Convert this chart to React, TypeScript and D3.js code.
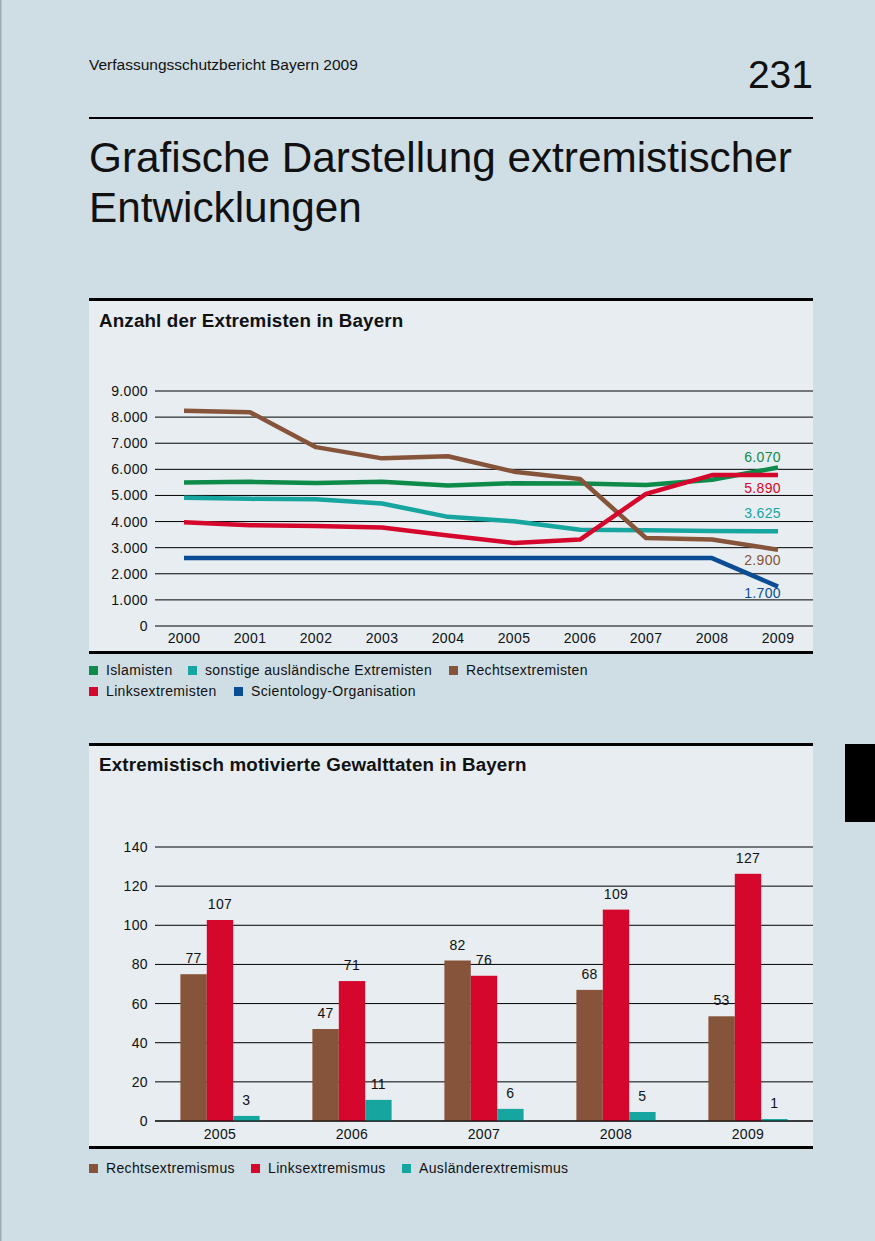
import React from 'react';
import * as d3 from 'd3';

// Anzahl der Extremisten in Bayern
const years = ['2000', '2001', '2002', '2003', '2004', '2005', '2006', '2007', '2008', '2009'];
const islamisten = [5500, 5520, 5480, 5520, 5380, 5470, 5460, 5400, 5600, 6070];
const sonstige = [4910, 4870, 4850, 4690, 4180, 4010, 3690, 3670, 3640, 3625];
const rechts = [8240, 8190, 6850, 6420, 6500, 5910, 5630, 3370, 3310, 2920];
const links = [3970, 3860, 3830, 3770, 3470, 3180, 3310, 5060, 5780, 5780];
const scientology = [2600, 2600, 2600, 2600, 2600, 2600, 2600, 2600, 2600, 1510];
const endLabels = ['6.070', '5.890', '3.625', '2.900', '1.700'];
const lineTicks = [0, 1000, 2000, 3000, 4000, 5000, 6000, 7000, 8000, 9000];

// Extremistisch motivierte Gewalttaten in Bayern
const barYears = ['2005', '2006', '2007', '2008', '2009'];
const rechtsBars = [75, 47, 82, 67, 53.5];
const linksBars = [102.7, 71.5, 74.2, 108, 126.3];
const auslBars = [2.6, 10.8, 6.2, 4.6, 1];
const rechtsLabels = ['77', '47', '82', '68', '53'];
const linksLabels = ['107', '71', '76', '109', '127'];
const auslLabels = ['3', '11', '6', '5', '1'];
const barTicks = [0, 20, 40, 60, 80, 100, 120, 140];

const C = {
  bg: '#cfdde4',
  panel: '#e7edf0',
  green: '#0e8a4b',
  teal: '#17a5a0',
  brown: '#86533b',
  red: '#d6072c',
  blue: '#0b4d94',
  text: '#111',
};

const FONT = '"Liberation Sans", Arial, Helvetica, sans-serif';
const de = d3.formatLocale({ decimal: ',', thousands: '.', grouping: [3], currency: ['', '€'] }).format(',');

const App: React.FC = () => {
  const W = 875;
  const H = 1241;
  const left = 89;
  const right = 813;
  const gridX0 = 155;

  // line chart scales
  const x = d3.scalePoint<string>().domain(years).range([184, 778]);
  const y = d3.scaleLinear().domain([0, 9000]).range([626, 391]);
  const line = d3.line<number>()
    .x((_, i) => x(years[i]) as number)
    .y(d => y(d));

  const series = [
    { name: 'Scientology-Organisation', values: scientology, color: C.blue },
    { name: 'sonstige ausländische Extremisten', values: sonstige, color: C.teal },
    { name: 'Islamisten', values: islamisten, color: C.green },
    { name: 'Rechtsextremisten', values: rechts, color: C.brown },
    { name: 'Linksextremisten', values: links, color: C.red },
  ];

  const endLabelStyle = [
    { color: C.green, dy: -6, v: islamisten[9] },
    { color: C.red, dy: 18, v: links[9] },
    { color: C.teal, dy: -13, v: sonstige[9] },
    { color: C.brown, dy: 15, v: rechts[9] },
    { color: C.blue, dy: 11, v: scientology[9] },
  ];

  // bar chart scales
  const xb = d3.scaleBand<string>().domain(barYears).range([154, 814]).paddingInner(0.4).paddingOuter(0.2);
  const xs = d3.scaleBand<string>().domain(['r', 'l', 'a']).range([0, xb.bandwidth()]);
  const yb = d3.scaleLinear().domain([0, 140]).range([1121, 847]);
  const barSeries = [
    { key: 'r', values: rechtsBars, labels: rechtsLabels, color: C.brown },
    { key: 'l', values: linksBars, labels: linksLabels, color: C.red },
    { key: 'a', values: auslBars, labels: auslLabels, color: C.teal },
  ];

  const legend1 = [
    { label: 'Islamisten', color: C.green, x: 89, y: 675 },
    { label: 'sonstige ausländische Extremisten', color: C.teal, x: 188, y: 675 },
    { label: 'Rechtsextremisten', color: C.brown, x: 449, y: 675 },
    { label: 'Linksextremisten', color: C.red, x: 89, y: 696 },
    { label: 'Scientology-Organisation', color: C.blue, x: 234, y: 696 },
  ];
  const legend2 = [
    { label: 'Rechtsextremismus', color: C.brown, x: 89, y: 1173 },
    { label: 'Linksextremismus', color: C.red, x: 251, y: 1173 },
    { label: 'Ausländerextremismus', color: C.teal, x: 402, y: 1173 },
  ];

  const small = { fontSize: 14, letterSpacing: 0.35 } as const;
  const heading = { fontSize: 18.8, fontWeight: 'bold', letterSpacing: 0.15 } as const;

  return (
    <svg width={W} height={H} style={{ position: 'absolute', left: 0, top: 0 }} fontFamily={FONT}>
      <rect width={W} height={H} fill={C.bg} />
      <rect x={0} y={0} width={1.5} height={H} fill="#9aacb5" />
      <rect x={845} y={744} width={30} height={78} fill="#000" />

      {/* header */}
      <text x={left} y={70} fontSize={15.5} fill={C.text}>Verfassungsschutzbericht Bayern 2009</text>
      <text x={right} y={88} fontSize={39} fill={C.text} textAnchor="end">231</text>
      <rect x={left} y={117} width={right - left} height={2} fill="#000" />
      <text x={left} y={172} fontSize={42.3} fill={C.text}>Grafische Darstellung extremistischer</text>
      <text x={left} y={222} fontSize={42.3} fill={C.text}>Entwicklungen</text>

      {/* panel 1 */}
      <rect x={left} y={299} width={right - left} height={353} fill={C.panel} />
      <rect x={left} y={298} width={right - left} height={3} fill="#000" />
      <rect x={left} y={651} width={right - left} height={3} fill="#000" />
      <text x={99} y={327} fill={C.text} {...heading}>Anzahl der Extremisten in Bayern</text>

      {lineTicks.map(t => (
        <g key={t}>
          <line x1={gridX0} x2={right} y1={y(t)} y2={y(t)} stroke="#000" strokeWidth={1} />
          <text x={148} y={y(t) + 5} textAnchor="end" fill={C.text} {...small}>{de(t)}</text>
        </g>
      ))}
      {years.map(yr => (
        <text key={yr} x={x(yr)} y={643} textAnchor="middle" fill={C.text} {...small}>{yr}</text>
      ))}
      {series.map(s => (
        <path key={s.name} d={line(s.values) || ''} fill="none" stroke={s.color} strokeWidth={4.5} strokeLinejoin="round" />
      ))}
      {endLabels.map((l, i) => (
        <text key={l} x={781} y={y(endLabelStyle[i].v) + endLabelStyle[i].dy} textAnchor="end" fill={endLabelStyle[i].color} {...small}>{l}</text>
      ))}

      {legend1.map(d => (
        <g key={d.label}>
          <rect x={d.x} y={d.y - 9} width={9} height={9} fill={d.color} />
          <text x={d.x + 17} y={d.y} fill={C.text} {...small}>{d.label}</text>
        </g>
      ))}

      {/* panel 2 */}
      <rect x={left} y={744} width={right - left} height={403} fill={C.panel} />
      <rect x={left} y={743} width={right - left} height={3} fill="#000" />
      <rect x={left} y={1146} width={right - left} height={3} fill="#000" />
      <text x={99} y={771} fill={C.text} {...heading}>Extremistisch motivierte Gewalttaten in Bayern</text>

      {barTicks.map(t => (
        <g key={t}>
          <line x1={gridX0} x2={right} y1={yb(t)} y2={yb(t)} stroke="#000" strokeWidth={1} />
          <text x={148} y={yb(t) + 5} textAnchor="end" fill={C.text} {...small}>{t}</text>
        </g>
      ))}
      {barYears.map((yr, i) => (
        <g key={yr} transform={`translate(${xb(yr)},0)`}>
          {barSeries.map(s => (
            <g key={s.key}>
              <rect x={xs(s.key)} y={yb(s.values[i])} width={xs.bandwidth()} height={yb(0) - yb(s.values[i])} fill={s.color} />
              <text x={(xs(s.key) as number) + xs.bandwidth() / 2} y={yb(s.values[i]) - 11} textAnchor="middle" fill={C.text} {...small}>{s.labels[i]}</text>
            </g>
          ))}
          <text x={xb.bandwidth() / 2} y={1139} textAnchor="middle" fill={C.text} {...small}>{yr}</text>
        </g>
      ))}
      <line x1={gridX0} x2={right} y1={yb(0)} y2={yb(0)} stroke="#000" strokeWidth={1} />

      {legend2.map(d => (
        <g key={d.label}>
          <rect x={d.x} y={d.y - 9} width={9} height={9} fill={d.color} />
          <text x={d.x + 17} y={d.y} fill={C.text} {...small}>{d.label}</text>
        </g>
      ))}
    </svg>
  );
};

export default App;
